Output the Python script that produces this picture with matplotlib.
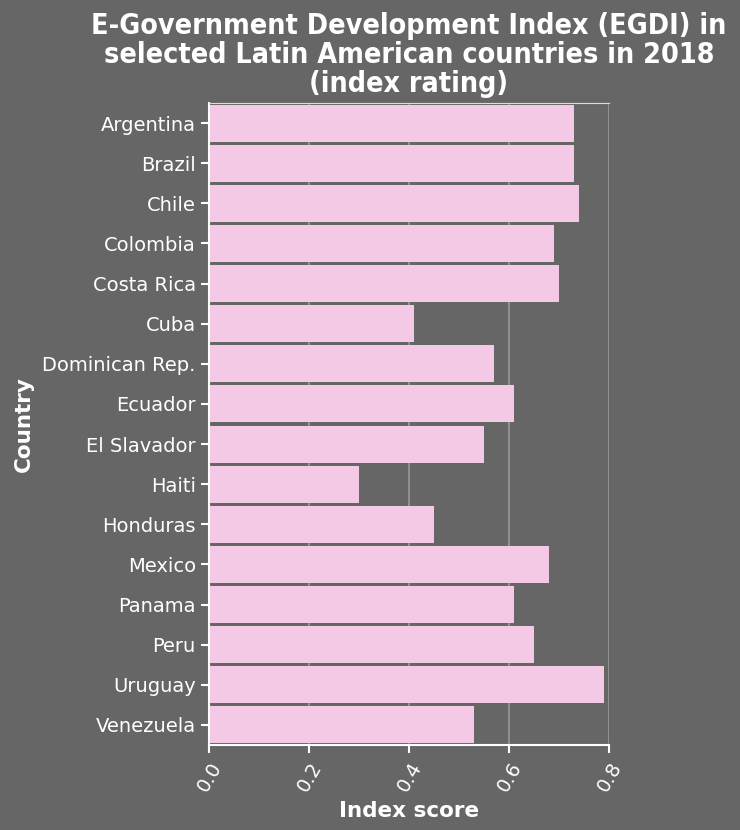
import matplotlib
matplotlib.use("Agg")
import matplotlib.pyplot as plt

# EGDI 2018
countries = [
    "Argentina", "Brazil", "Chile", "Colombia", "Costa Rica", "Cuba",
    "Dominican Rep.", "Ecuador", "El Slavador", "Haiti", "Honduras",
    "Mexico", "Panama", "Peru", "Uruguay", "Venezuela",
]
scores = [
    0.73, 0.73, 0.74, 0.69, 0.70, 0.41,
    0.57, 0.61, 0.55, 0.30, 0.45,
    0.68, 0.61, 0.65, 0.79, 0.53,
]
x_ticks = [0.0, 0.2, 0.4, 0.6, 0.8]

bg = "#666666"
bar_color = "#f4c9e6"
fg = "white"

fig = plt.figure(figsize=(7.4, 8.3), dpi=100, facecolor=bg)
ax = fig.add_axes([209 / 740, 1 - 745 / 830, 400 / 740, 642 / 830])
ax.set_facecolor(bg)

pos = list(range(len(countries)))
ax.barh(pos, scores, height=0.92, color=bar_color, zorder=2)
ax.set_ylim(len(countries) - 0.5, -0.5)
ax.set_xlim(0, 0.8)

ax.set_yticks(pos)
ax.set_yticklabels(countries, fontsize=14, color=fg)
ax.set_xticks(x_ticks)
ax.set_xticklabels([f"{t:.1f}" for t in x_ticks], fontsize=14, color=fg,
                   rotation=60, ha="right", va="top", rotation_mode="anchor")
ax.tick_params(axis="both", colors=fg, length=6, width=1.5)
ax.tick_params(axis="x", pad=4)

ax.grid(axis="x", color="#999999", linewidth=1.2, zorder=1)
for side in ["left", "bottom"]:
    ax.spines[side].set_color(fg)
    ax.spines[side].set_linewidth(1.5)
ax.spines["top"].set_color("#dddddd")
ax.spines["right"].set_visible(False)

ax.set_xlabel("Index score", fontsize=15.5, fontweight="bold", color=fg, labelpad=4)
ax.set_ylabel("Country", fontsize=15.5, fontweight="bold", color=fg, labelpad=6)
ax.set_title("E-Government Development Index (EGDI) in\n"
             "selected Latin American countries in 2018\n(index rating)",
             fontsize=20.5, fontweight="bold", fontstretch="condensed",
             color=fg, linespacing=1.05, pad=8)

fig.savefig("out.png", dpi=100, facecolor=bg)
